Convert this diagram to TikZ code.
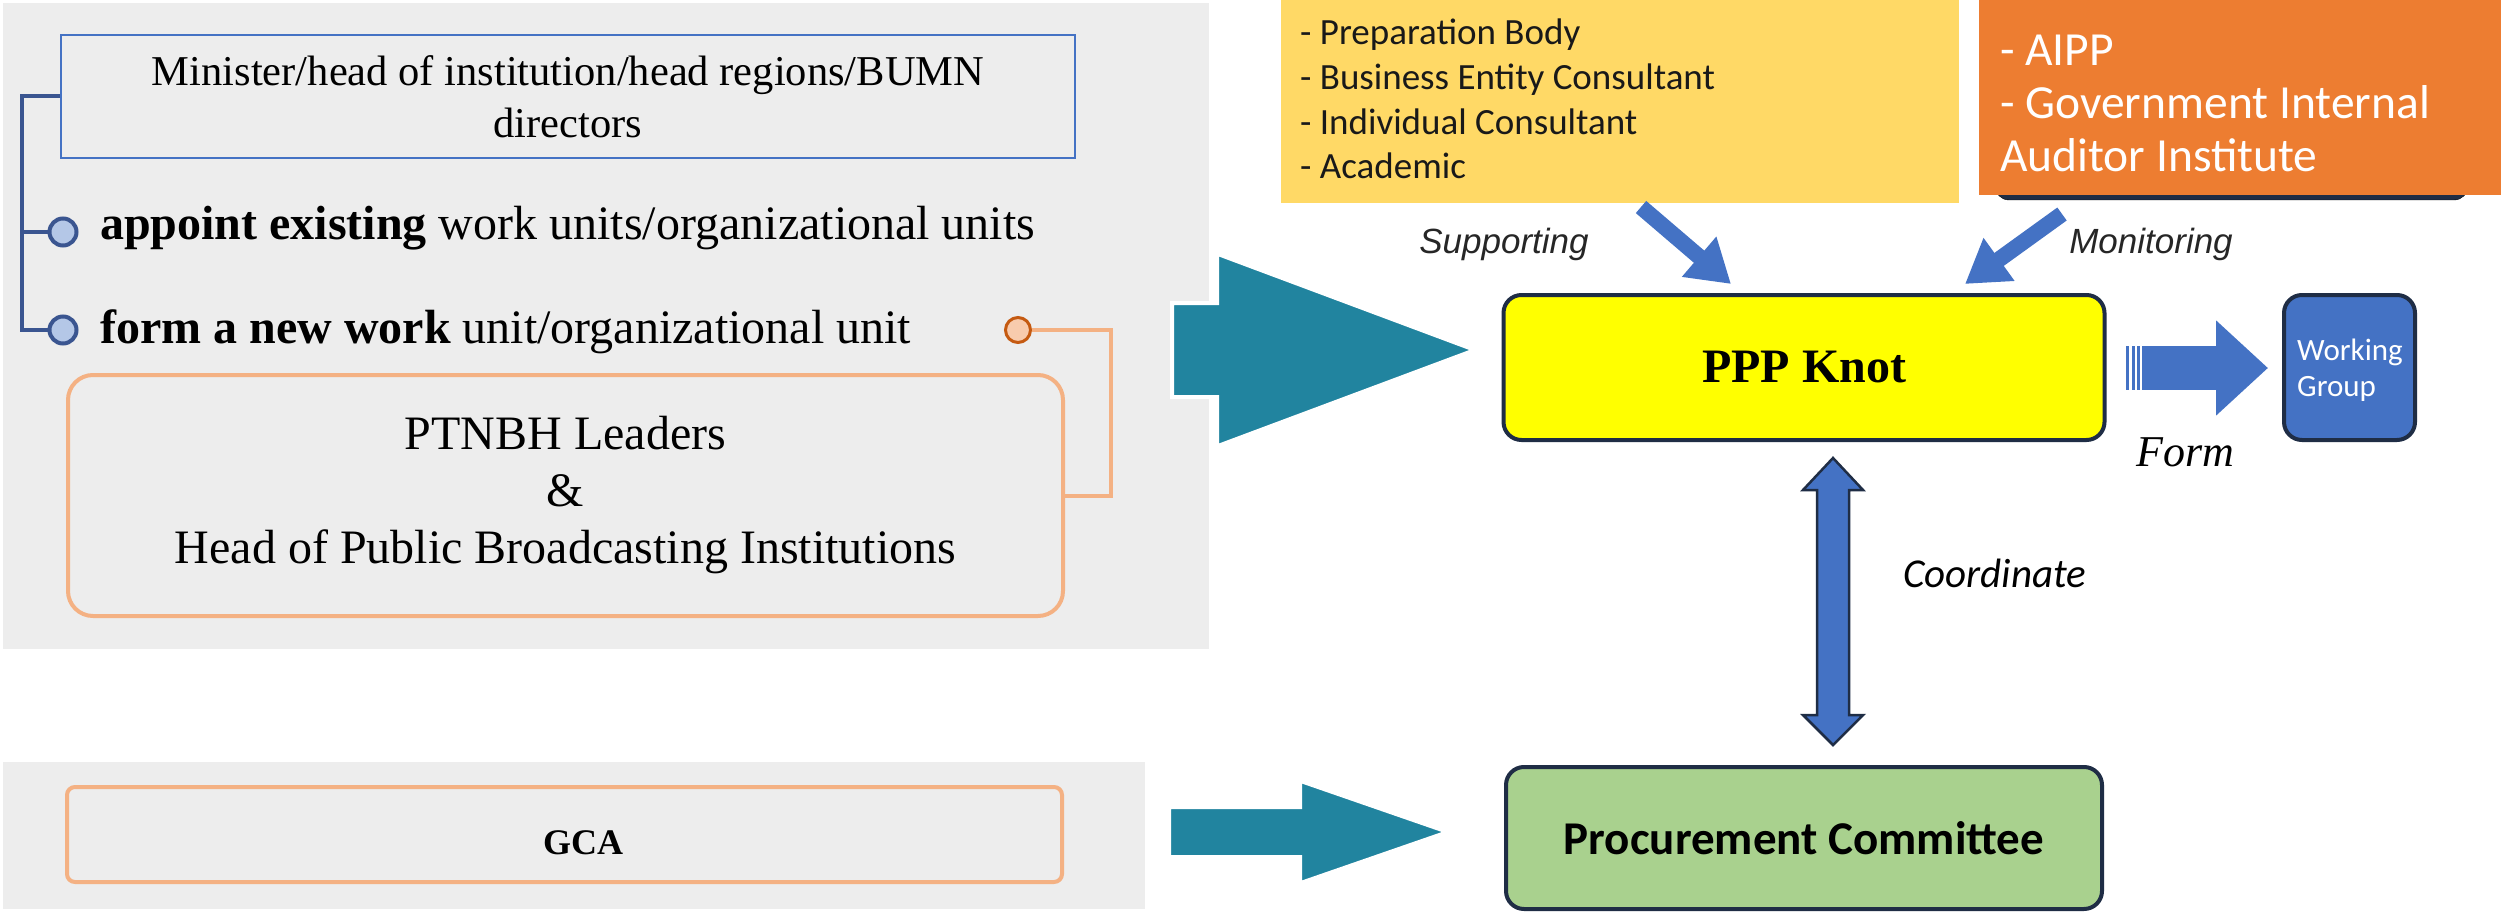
\documentclass[tikz,border=0pt]{standalone}
\usepackage{fontspec}
\setmainfont{Liberation Serif}
\newfontfamily\calibri{Carlito}
\newfontfamily\arialf{Liberation Sans}
\usetikzlibrary{arrows.meta,calc}
\definecolor{panelgray}{HTML}{EDEDED}
\definecolor{boxblue}{HTML}{4472C4}
\definecolor{dotline}{HTML}{3A5590}
\definecolor{dotfill}{HTML}{B4C7E7}
\definecolor{peach}{HTML}{F4B183}
\definecolor{darkorange}{HTML}{C55A11}
\definecolor{lightorange}{HTML}{F8CBAD}
\definecolor{tealc}{HTML}{21849F}
\definecolor{navy}{HTML}{1F2D45}
\definecolor{accentblue}{HTML}{4472C4}
\definecolor{pppyellow}{HTML}{FFFF00}
\definecolor{procgreen}{HTML}{A9D18E}
\definecolor{softyellow}{HTML}{FFD966}
\definecolor{orangebox}{HTML}{ED7D31}
\definecolor{labelgray}{HTML}{262626}
\newcommand{\tealpoly}[5]{%
  \path[#1] let \p1=(#2), \p2=(#3) in
    (\x1,\y1+#4) -- (\x1+#5,\y1+#4) -- (\x1+#5,\y1+#4*2.05) -- (\x2,\y2)
    -- (\x1+#5,\y1-#4*2.05) -- (\x1+#5,\y1-#4) -- (\x1,\y1-#4) -- cycle;}
\begin{document}
\begin{tikzpicture}[x=1pt,y=-1pt,
  panel/.style={fill=panelgray},
  minbox/.style={draw=boxblue, line width=2pt, fill=panelgray, minimum width=1014pt,
    minimum height=123pt, align=center, inner sep=0pt, font=\fontsize{42.5}{52}\selectfont},
  itemtext/.style={anchor=west, inner sep=0pt, font=\fontsize{48}{57}\selectfont},
  dotnode/.style={circle, draw=dotline, fill=dotfill, line width=4pt, minimum size=27pt, inner sep=0pt},
  bracket/.style={draw=dotline, line width=4pt},
  peachbox/.style={draw=peach, line width=4pt, fill=panelgray, inner sep=0pt, align=center},
  ocircle/.style={circle, draw=darkorange, fill=lightorange, line width=3pt, minimum size=25pt, inner sep=0pt},
  orline/.style={draw=peach, line width=4pt},
  tealshape/.style={fill=tealc, draw=white, line width=4pt, line join=miter},
  shadowshape/.style={fill=black, opacity=.15},
  darkbox/.style={draw=navy, line width=4pt, rounded corners=18pt, inner sep=0pt},
  bluearrow/.style={draw=accentblue, line width=16pt, -{Triangle[length=42pt,width=50pt]}},
  slabel/.style={inner sep=0pt, text=labelgray, font=\arialf\itshape\fontsize{35}{40}\selectfont},
  dblarrow/.style={fill=accentblue, draw=navy, line width=2.5pt, line join=miter}
]
\useasboundingbox (0,0) rectangle (2501,912);
\fill[white] (0,0) rectangle (2501,912);

% ---------- left panels ----------
\fill[panel] (3,3) rectangle (1209,649);
\fill[panel] (3,762) rectangle (1145,909);

\node[minbox] (min) at (568,96.5) {Minister/head of institution/head regions/BUMN\\directors};

\node[dotnode] (c1) at (63,232) {};
\node[dotnode] (c2) at (63,330) {};
\coordinate (br) at (22,96.5);
\draw[bracket] (min.west) -- (br) |- (c2.west);
\draw[bracket] (c1.west -| br) -- (c1.west);

\node[itemtext] (appoint) at (100,228) {\textbf{appoint existing} work units/organizational units};
\node[itemtext] (formnew) at (100,332) {\textbf{form a new work} unit/organizational unit};

\node[ocircle] (oc) at (1018,330) {};
\node[peachbox, rounded corners=25pt, minimum width=995pt, minimum height=241pt,
      font=\fontsize{48}{57}\selectfont] (ptn) at (565.5,495.5)
      {PTNBH Leaders\\\&\\Head of Public Broadcasting Institutions};
\coordinate (orx) at (1111,0);
\draw[orline] (oc.east) -- (oc.east -| orx) |- (ptn.east);

\node[peachbox, rounded corners=8pt, minimum width=995pt, minimum height=95pt] (gcabox) at (564.5,834.5) {};
\node[inner sep=0pt, font=\bfseries\fontsize{36}{40}\selectfont] (gca) at (583,843) {GCA};

% ---------- top right boxes ----------
\draw[fill=navy, rounded corners=12pt] (1285,-30) rectangle (1925,3);
\node[fill=softyellow, minimum width=678pt, minimum height=203pt, inner sep=0pt] (ybox) at (1620,101.5) {};
\node[anchor=west, align=left, inner sep=0pt, text=black!90,
      font=\calibri\fontsize{37}{44.7}\selectfont] (ytext) at (1300,99)
      {- Preparation Body\\- Business Entity Consultant\\- Individual Consultant\\- Academic};

\draw[fill=navy, rounded corners=14pt] (1995,-30) rectangle (2468,200);
\node[fill=orangebox, minimum width=522pt, minimum height=195pt, inner sep=0pt] (obox) at (2240,97.5) {};
\node[anchor=west, align=left, inner sep=0pt, text=white,
      font=\calibri\fontsize{47.5}{53}\selectfont] (otext) at (2000,103)
      {- AIPP\\- Government Internal\\Auditor Institute};

% ---------- central boxes ----------
\node[darkbox, fill=pppyellow, minimum width=601pt, minimum height=145pt,
      font=\bfseries\fontsize{48}{52}\selectfont] (ppp) at (1804,367.5) {PPP Knot};
\node[darkbox, fill=accentblue, minimum width=131pt, minimum height=145pt] (wg) at (2349.5,367.5) {};
\node[anchor=west, align=left, inner sep=0pt, text=white,
      font=\calibri\fontsize{31}{36}\selectfont] (wgt) at (2297,370) {Working\\Group};
\node[darkbox, fill=procgreen, minimum width=596pt, minimum height=142pt,
      font=\calibri\bfseries\fontsize{47}{50}\selectfont] (proc) at (1804,838) {Procurement Committee};

% ---------- teal block arrows ----------
\coordinate (a1s) at (1172,350);
\coordinate (a1e) at (1475,350);
\coordinate (a2s) at (1169,832);
\coordinate (a2e) at (1448,832);
\begin{scope}[shift={(5,7)}]
  \tealpoly{shadowshape}{a1s}{a1e}{47pt}{45pt}
  \tealpoly{shadowshape}{a2s}{a2e}{25pt}{131pt}
\end{scope}
\tealpoly{tealshape}{a1s}{a1e}{47pt}{45pt}
\tealpoly{tealshape}{a2s}{a2e}{25pt}{131pt}

% ---------- supporting / monitoring ----------
\coordinate (sups) at (1641,207);
\coordinate (supe) at (1731,284);
\coordinate (mons) at (2062,214);
\coordinate (mone) at (1965,284);
\draw[bluearrow] (sups) -- (supe);
\draw[bluearrow] (mons) -- (mone);
\node[slabel] (supl) at (1504,244) {Supporting};
\node[slabel] (monl) at (2151,244) {Monitoring};

% ---------- form arrow ----------
\coordinate (fs) at (2142,368);
\coordinate (fe) at (2268,368);
\fill[accentblue] (2126,346) rectangle (2129,390);
\fill[accentblue] (2131.5,346) rectangle (2134.5,390);
\fill[accentblue] (2137,346) rectangle (2140,390);
\draw[draw=accentblue, line width=44pt, -{Triangle[length=52pt,width=92pt]}] (fs) -- (fe);
\node[inner sep=0pt, font=\itshape\fontsize{44}{48}\selectfont] (forml) at (2185,452) {Form};

% ---------- coordinate double arrow ----------
\coordinate (dat) at (1833,458);
\coordinate (dab) at (1833,745);
\path[dblarrow] let \p1=(dat), \p2=(dab) in
  (\x1,\y1) -- (\x1+30pt,\y1-32pt) -- (\x1+16pt,\y1-32pt) -- (\x2+16pt,\y2+30pt)
  -- (\x2+30pt,\y2+30pt) -- (\x2,\y2) -- (\x2-30pt,\y2+30pt) -- (\x2-16pt,\y2+30pt)
  -- (\x1-16pt,\y1-32pt) -- (\x1-30pt,\y1-32pt) -- cycle;
\node[anchor=west, inner sep=0pt, font=\calibri\itshape\fontsize{41}{44}\selectfont] (coordl) at (1903,573) {Coordinate};
\end{tikzpicture}
\end{document}
